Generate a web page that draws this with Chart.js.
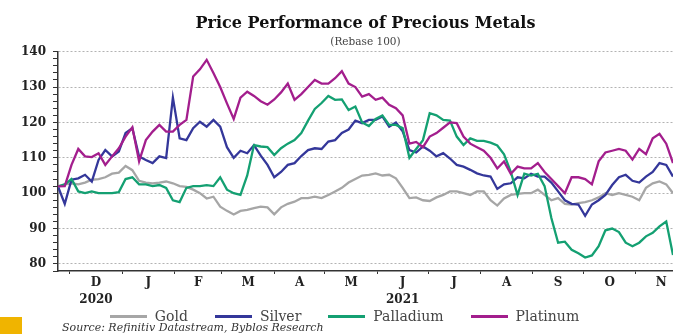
<!DOCTYPE html>
<html>
<head>
<meta charset="utf-8">
<title>Price Performance of Precious Metals</title>
<script src="https://cdn.jsdelivr.net/npm/chart.js@4.4.1/dist/chart.umd.min.js"></script>
<style>
  html, body { margin: 0; padding: 0; background: #fff; }
  #wrap { position: relative; width: 673px; height: 334px; }
  #legend { position: absolute; left: 0; top: 308px; width: 673px; box-sizing: border-box; padding-left: 16px;
            display: flex; justify-content: center; gap: 27px; line-height: 16px;
            font: 14px 'DejaVu Serif', serif; color: #444; }
  #legend .item { display: flex; align-items: center; }
  #legend .swatch { width: 37px; height: 3px; margin-right: 8px; }
  #source { position: absolute; left: 62px; top: 321px; line-height: 13px; font: italic 11px 'DejaVu Serif', serif; color: #333; }
  #mark { position: absolute; left: 0; top: 317px; width: 22px; height: 17px; background: #f0b400; }
</style>
</head>
<body>
<div id="wrap">
  <canvas id="chart"></canvas>
  <div id="legend"></div>
  <div id="source">Source: Refinitiv Datastream, Byblos Research</div>
  <div id="mark"></div>
</div>
<script>
// readings every 4 days, starting 24 Nov 2020 (day 0)
const stepDays = 4;

const gold = [
  101.9, 102.5, 102.8, 102.5, 103, 103.8, 104, 104.5, 105.5, 105.8,
  107.7, 106.5, 103.5, 103, 102.8, 103, 103.3, 102.8, 102, 101.8,
  101, 100, 98.5, 99, 96.2, 95, 94, 95, 95.3, 95.8,
  96.2, 96, 94, 96, 97, 97.6, 98.6, 98.6, 99, 98.6,
  99.5, 100.5, 101.5, 103, 104, 105, 105.2, 105.6, 105, 105.2,
  104.2, 101.5, 98.6, 98.8, 98, 97.8, 98.8, 99.5, 100.5, 100.5,
  100, 99.5, 100.5, 100.5, 98, 96.5, 98.5, 99.5, 99.8, 100,
  100, 101, 99.5, 98, 98.6, 97, 96.8, 97.2, 97.5, 98,
  98.8, 100, 99.5, 100, 99.5, 99, 98, 101.5, 102.8, 103.3,
  102.5, 100
];
const silver = [
  101.9, 97, 103.8, 104.2, 105.2, 103.3, 109.4, 112.2, 110.4, 111.8,
  117, 118.4, 110.4, 109.4, 108.5, 110.4, 109.9, 127, 115.5, 115,
  118.4, 120.2, 118.8, 120.7, 118.8, 113, 110, 112, 111.3, 113.6,
  110.6, 108, 104.5, 106, 108, 108.5, 110.5, 112.2, 112.7, 112.5,
  114.6, 115, 117, 118, 120.5, 119.8, 120.7, 120.7, 121.7, 118.8,
  120, 117.5, 112.2, 111.5, 113.2, 112, 110.4, 111.3, 109.8, 108,
  107.5, 106.6, 105.6, 105, 104.7, 101.2, 102.5, 102.8, 104.5, 104.2,
  105.5, 104.7, 104.7, 103, 100.5, 98, 97, 96.8, 93.6, 96.8,
  98, 99.5, 102.3, 104.5, 105.2, 103.5, 103, 104.7, 106, 108.5,
  108, 104.7
];
const palladium = [
  101.9, 102.5, 104, 100.5, 100, 100.5, 100, 100, 100, 100.3,
  104, 104.5, 102.5, 102.5, 102, 102.3, 101.5, 98, 97.5, 101.5,
  102, 102, 102.3, 102, 104.5, 101, 100, 99.5, 105, 113.6,
  113.2, 113, 110.8, 112.7, 114, 115, 117, 120.5, 123.8, 125.5,
  127.5, 126.4, 126.5, 123.5, 124.5, 120, 119, 121, 122, 119.3,
  119.3, 118.4, 110, 112.5, 115, 122.6, 122, 120.7, 120.5, 116,
  113.6, 115.5, 114.8, 114.8, 114.3, 113.5, 111, 106, 99.5, 105.5,
  105, 105.5, 102, 93, 86, 86.3, 84, 83, 81.8, 82.4,
  85, 89.5, 90, 89, 86, 85, 86, 87.8, 88.8, 90.6,
  92, 82.5
];
const platinum = [
  101.9, 102, 108, 112.5, 110.4, 110.2, 111.3, 108, 110.4, 112.7,
  116, 118.6, 109, 115, 117.4, 119.3, 117.4, 117.4, 119.3, 120.7,
  133, 135, 137.7, 134, 130, 125.4, 121, 127, 128.7, 127.5,
  126, 125, 126.5, 128.5, 131, 126.4, 128, 130, 132, 131,
  131, 132.5, 134.5, 131, 130, 127.3, 128, 126.4, 127, 125,
  124, 122, 114, 114.5, 113, 116, 117, 118.5, 120, 119.8,
  116, 114, 113, 112, 110, 107, 109, 105.5, 107.5, 107,
  107, 108.5, 106, 104, 102, 100, 104.5, 104.5, 104, 102.5,
  109, 111.5, 112, 112.5, 112, 109.5, 112.5, 111, 115.5, 116.8,
  114, 108.5
];

const seriesNames = ['Gold', 'Silver', 'Palladium', 'Platinum'];
const seriesColors = ['#a6a6a6', '#34379a', '#14a072', '#a31e8d'];

// month starts (days after 24 Nov 2020) and axis letters
const monthStarts = [7, 38, 69, 97, 128, 158, 189, 219, 250, 281, 311, 342, 372];
const monthLetters = ['D', 'J', 'F', 'M', 'A', 'M', 'J', 'J', 'A', 'S', 'O', 'N'];
const yearLabels = ['2020', '', '', '', '', '', '2021', '', '', '', '', ''];

const toPoints = arr => arr.map((v, i) => ({ x: i * stepDays, y: v }));
const allSeries = [gold, silver, palladium, platinum];

const monthMids = monthLetters.map((m, i) => (monthStarts[i] + monthStarts[i + 1]) / 2);
const isStart = v => monthStarts.includes(v);

const datasets = allSeries.map((s, i) => ({
  label: seriesNames[i],
  data: toPoints(s),
  borderColor: seriesColors[i],
  borderWidth: 2.3,
  pointRadius: 0,
  tension: 0,
  order: allSeries.length - i
}));

const serif = 'DejaVu Serif';

new Chart(document.getElementById('chart'), {
  type: 'line',
  data: { datasets: datasets },
  options: {
    responsive: true,
    maintainAspectRatio: false,
    animation: false,
    layout: { padding: { bottom: 25, right: 0 } },
    plugins: {
      legend: { display: false },
      tooltip: { enabled: false },
      title: {
        display: true,
        fullSize: false,
        text: 'Price Performance of Precious Metals',
        color: '#111',
        font: { family: serif, size: 16, weight: 'bold', lineHeight: 1.2 },
        padding: { top: 14.4, bottom: 0 }
      },
      subtitle: {
        display: true,
        fullSize: false,
        text: '(Rebase 100)',
        color: '#444',
        font: { family: serif, size: 10.5, lineHeight: 1.2 },
        padding: { top: 2.1, bottom: 3.4 }
      }
    },
    scales: {
      x: {
        type: 'linear',
        min: 0,
        max: 364,
        afterBuildTicks: axis => {
          const t = monthStarts.filter(v => v <= 364).concat(monthMids);
          axis.ticks = t.sort((a, b) => a - b).map(v => ({ value: v }));
        },
        ticks: {
          autoSkip: false,
          maxRotation: 0,
          minRotation: 0,
          padding: 1,
          color: '#222',
          font: { family: serif, size: 12, weight: 'bold', lineHeight: 1.375 },
          callback: function(value) {
            const i = monthMids.indexOf(value);
            if (i < 0) return '';
            return yearLabels[i] ? [monthLetters[i], yearLabels[i]] : monthLetters[i];
          }
        },
        grid: {
          drawOnChartArea: false,
          tickLength: 3,
          tickColor: ctx => (ctx.tick && isStart(ctx.tick.value)) ? '#333' : 'transparent'
        },
        border: { color: '#333', width: 1.5 }
      },
      y: {
        min: 78,
        max: 140,
        afterFit: axis => { axis.width = 58; },
        afterBuildTicks: axis => {
          const t = [];
          for (let v = 78; v <= 140; v += 2) t.push({ value: v });
          axis.ticks = t;
        },
        ticks: {
          autoSkip: false,
          padding: 7,
          color: '#222',
          font: { family: serif, size: 12, weight: 'bold' },
          callback: value => (value % 10 === 0 ? value : '')
        },
        grid: {
          color: ctx => (ctx.tick && ctx.tick.value % 10 === 0) ? '#b3b3b3' : 'transparent',
          lineWidth: 1,
          tickLength: 5,
          tickColor: '#333'
        },
        border: { color: '#333', width: 1.5, dash: [2, 2] }
      }
    }
  }
});

// legend below the axis
const legend = document.getElementById('legend');
seriesNames.forEach((name, i) => {
  const item = document.createElement('div');
  item.className = 'item';
  const sw = document.createElement('span');
  sw.className = 'swatch';
  sw.style.background = seriesColors[i];
  const txt = document.createElement('span');
  txt.textContent = name;
  item.appendChild(sw);
  item.appendChild(txt);
  legend.appendChild(item);
});
</script>
</body>
</html>
